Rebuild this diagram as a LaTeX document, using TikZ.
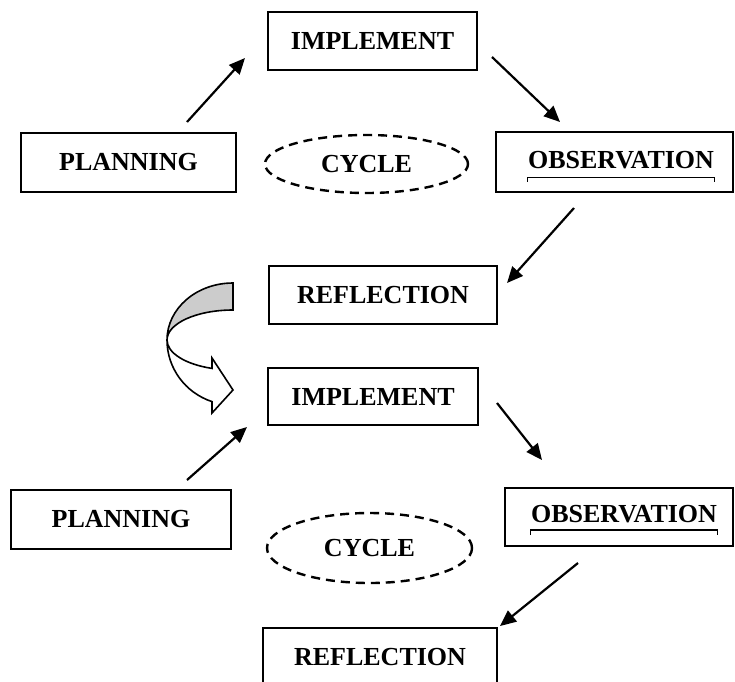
\documentclass[tikz,border=0pt]{standalone}
\usepackage{fontspec}
\setmainfont{Liberation Serif}
\usetikzlibrary{arrows.meta,shapes.geometric,calc}
\tikzset{
  stage/.style={draw, line width=2.2pt, inner sep=0pt, font=\bfseries\fontsize{26}{30}\selectfont},
  tag/.style={inner sep=0pt, font=\bfseries\fontsize{26}{30}\selectfont},
  loop/.style={draw, ellipse, line width=2.4pt, dash pattern=on 9pt off 6pt, inner sep=0pt, font=\bfseries\fontsize{26}{30}\selectfont},
  flow/.style={line width=2.2pt, -{Triangle[length=16pt,width=14pt]}}
}
\begin{document}
\begin{tikzpicture}[x=1pt,y=-1pt]
\clip (0,0) rectangle (735,681);
\node[stage, minimum width=209pt, minimum height=58pt] (imp1) at (372.5,41) {IMPLEMENT};
\node[stage, minimum width=215pt, minimum height=59pt] (plan1) at (128.5,162.5) {PLANNING};
\node[loop, minimum width=203pt, minimum height=58pt] (cyc1) at (366.5,164) {CYCLE};
\node[stage, minimum width=237pt, minimum height=60pt] (obs1) at (614.5,162) {};
\node[tag] (obs1t) at (621,160.5) {OBSERVATION};
\draw[line width=1.2pt] ($(obs1t.south west)+(0,12)$) -- ++(0,-4) -- ($(obs1t.south east)+(0,8)$) -- ++(0,4);
\node[stage, minimum width=228pt, minimum height=58pt] (ref1) at (383,295) {REFLECTION};
\coordinate (p1o) at (187,122);
\coordinate (i1i) at (245,58);
\coordinate (i1o) at (492,57);
\coordinate (o1i) at (560,122);
\coordinate (o1o) at (574,208);
\coordinate (r1i) at (507,283);
\draw[flow] (p1o) -- (i1i);
\draw[flow] (i1o) -- (o1i);
\draw[flow] (o1o) -- (r1i);
\filldraw[fill=gray!40, line width=1.6pt] (233,283) arc[start angle=270, end angle=180, x radius=66, y radius=57] arc[start angle=180, end angle=270, x radius=66, y radius=30] -- cycle;
\filldraw[fill=white, line width=1.6pt] (167,340) arc[start angle=180, end angle=108.55, x radius=66, y radius=65] -- (212,413) -- (233,390) -- (212,358) -- (212,368.4) arc[start angle=108.55, end angle=180, x radius=66, y radius=30] -- cycle;
\node[stage, minimum width=210pt, minimum height=57pt] (imp2) at (373,396.5) {IMPLEMENT};
\node[stage, minimum width=220pt, minimum height=59pt] (plan2) at (121,519.5) {PLANNING};
\node[loop, minimum width=205pt, minimum height=70pt] (cyc2) at (369.5,548) {CYCLE};
\node[stage, minimum width=228pt, minimum height=58pt] (obs2) at (619,517) {};
\node[tag] (obs2t) at (624,514) {OBSERVATION};
\draw[line width=1.2pt] ($(obs2t.south west)+(0,12)$) -- ++(0,-5) -- ($(obs2t.south east)+(0,7)$) -- ++(0,5);
\node[stage, minimum width=234pt, minimum height=58pt] (ref2) at (380,657) {REFLECTION};
\coordinate (p2o) at (187,480);
\coordinate (i2i) at (247,427);
\coordinate (i2o) at (497,403);
\coordinate (o2i) at (542,460);
\coordinate (o2o) at (578,563);
\coordinate (r2i) at (500,626);
\draw[flow] (p2o) -- (i2i);
\draw[flow] (i2o) -- (o2i);
\draw[flow] (o2o) -- (r2i);
\end{tikzpicture}
\end{document}
